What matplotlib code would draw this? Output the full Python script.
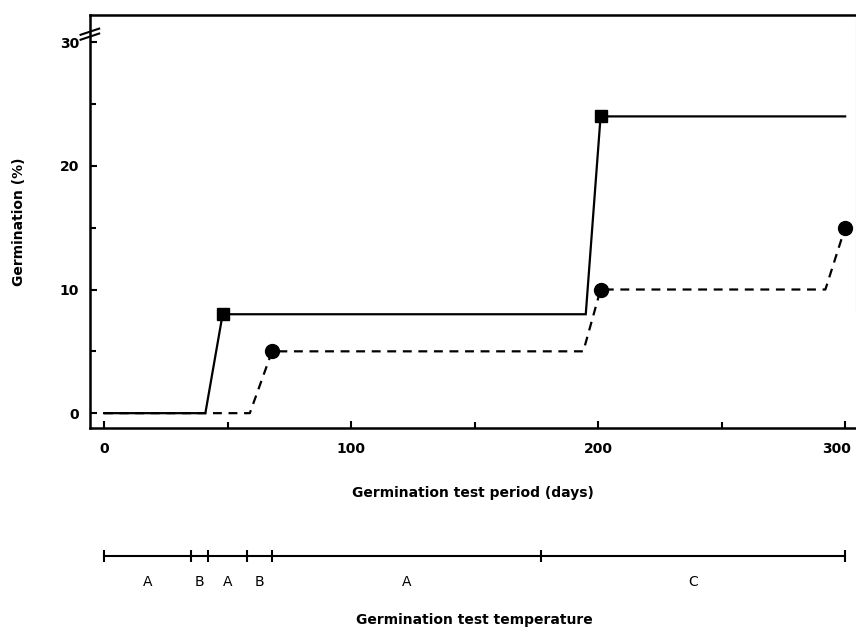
import matplotlib.pyplot as plt
from matplotlib.ticker import MultipleLocator
from matplotlib.transforms import ScaledTranslation

# germination curves
days_sq = [0, 41, 48, 195, 201, 300]
germ_sq = [0, 0, 8, 8, 24, 24]
days_ci = [0, 59, 68, 194, 201, 292, 300]
germ_ci = [0, 0, 5, 5, 10, 10, 15]

# temperature regime along the test period
temp_bounds = [0, 35, 42, 58, 68, 177, 300]
temp_labels = ['A', 'B', 'A', 'B', 'A', 'C']

plt.rcParams['font.family'] = ['DejaVu Sans']

fig = plt.figure(figsize=(8.56, 6.35), dpi=100)
ax = fig.add_axes([90 / 856, 207 / 635, 766 / 856, 413 / 635])

# plot data
ax.plot(days_sq, germ_sq, color='black', lw=1.6, marker='s', ms=9,
        markevery=[2, 4], solid_joinstyle='miter')
ax.plot(days_ci, germ_ci, color='black', lw=1.6, ls=(0, (4, 3)), marker='o',
        ms=10, markevery=[2, 4, 6])

ax.set_xlim(-5.7, 304.4)
ax.set_ylim(-1.2, 32.2)
ax.xaxis.set_major_locator(MultipleLocator(100))
ax.xaxis.set_minor_locator(MultipleLocator(50))
ax.yaxis.set_major_locator(MultipleLocator(10))
ax.yaxis.set_minor_locator(MultipleLocator(5))
ax.tick_params(which='both', direction='in', width=1.5, labelsize=10)
ax.tick_params(which='major', length=5)
ax.tick_params(which='minor', length=4)
ax.tick_params(axis='y', pad=8)
ax.tick_params(axis='x', pad=10)
for lab in ax.get_xticklabels() + ax.get_yticklabels():
    lab.set_fontweight('bold')

# keep the "300" label inside the figure
fig.canvas.draw()
for lab in ax.get_xticklabels():
    if lab.get_text() == '300':
        lab.set_transform(lab.get_transform() +
                          ScaledTranslation(-6 / 72, 0, fig.dpi_scale_trans))

for s in ['left', 'bottom', 'top']:
    ax.spines[s].set_linewidth(1.8)
ax.spines['right'].set_visible(False)
# faint right edge left over from the scan
ax.axvline(304.4, ymin=0.28, ymax=1, color='#aaaaaa', lw=0.8, clip_on=False)

# axis break marks on the y axis
for yb in [30.45, 30.85]:
    ax.plot([-9.5, -2.0], [yb - 0.25, yb + 0.25], color='black', lw=1.5,
            clip_on=False)

ax.set_xlabel('Germination test period (days)', fontsize=10, fontweight='bold',
              labelpad=22)
ax.set_ylabel('Germination (%)', fontsize=10, fontweight='bold', labelpad=24)

# temperature timeline below the chart
ax2 = fig.add_axes([90 / 856, 0, 766 / 856, 127 / 635])
ax2.set_xlim(ax.get_xlim())
ax2.set_ylim(-79, 48)
ax2.axis('off')
ax2.plot([temp_bounds[0], temp_bounds[-1]], [0, 0], color='black', lw=1.5)
ax2.vlines(temp_bounds, -6, 6, color='black', lw=1.5)
for i, lab in enumerate(temp_labels):
    mid = (temp_bounds[i] + temp_bounds[i + 1]) / 2
    ax2.text(mid, -26, lab, ha='center', va='center', fontsize=10)
ax2.text(150, -64, 'Germination test temperature', ha='center', va='center',
         fontsize=10, fontweight='bold')

fig.savefig('out.png', dpi=100)
